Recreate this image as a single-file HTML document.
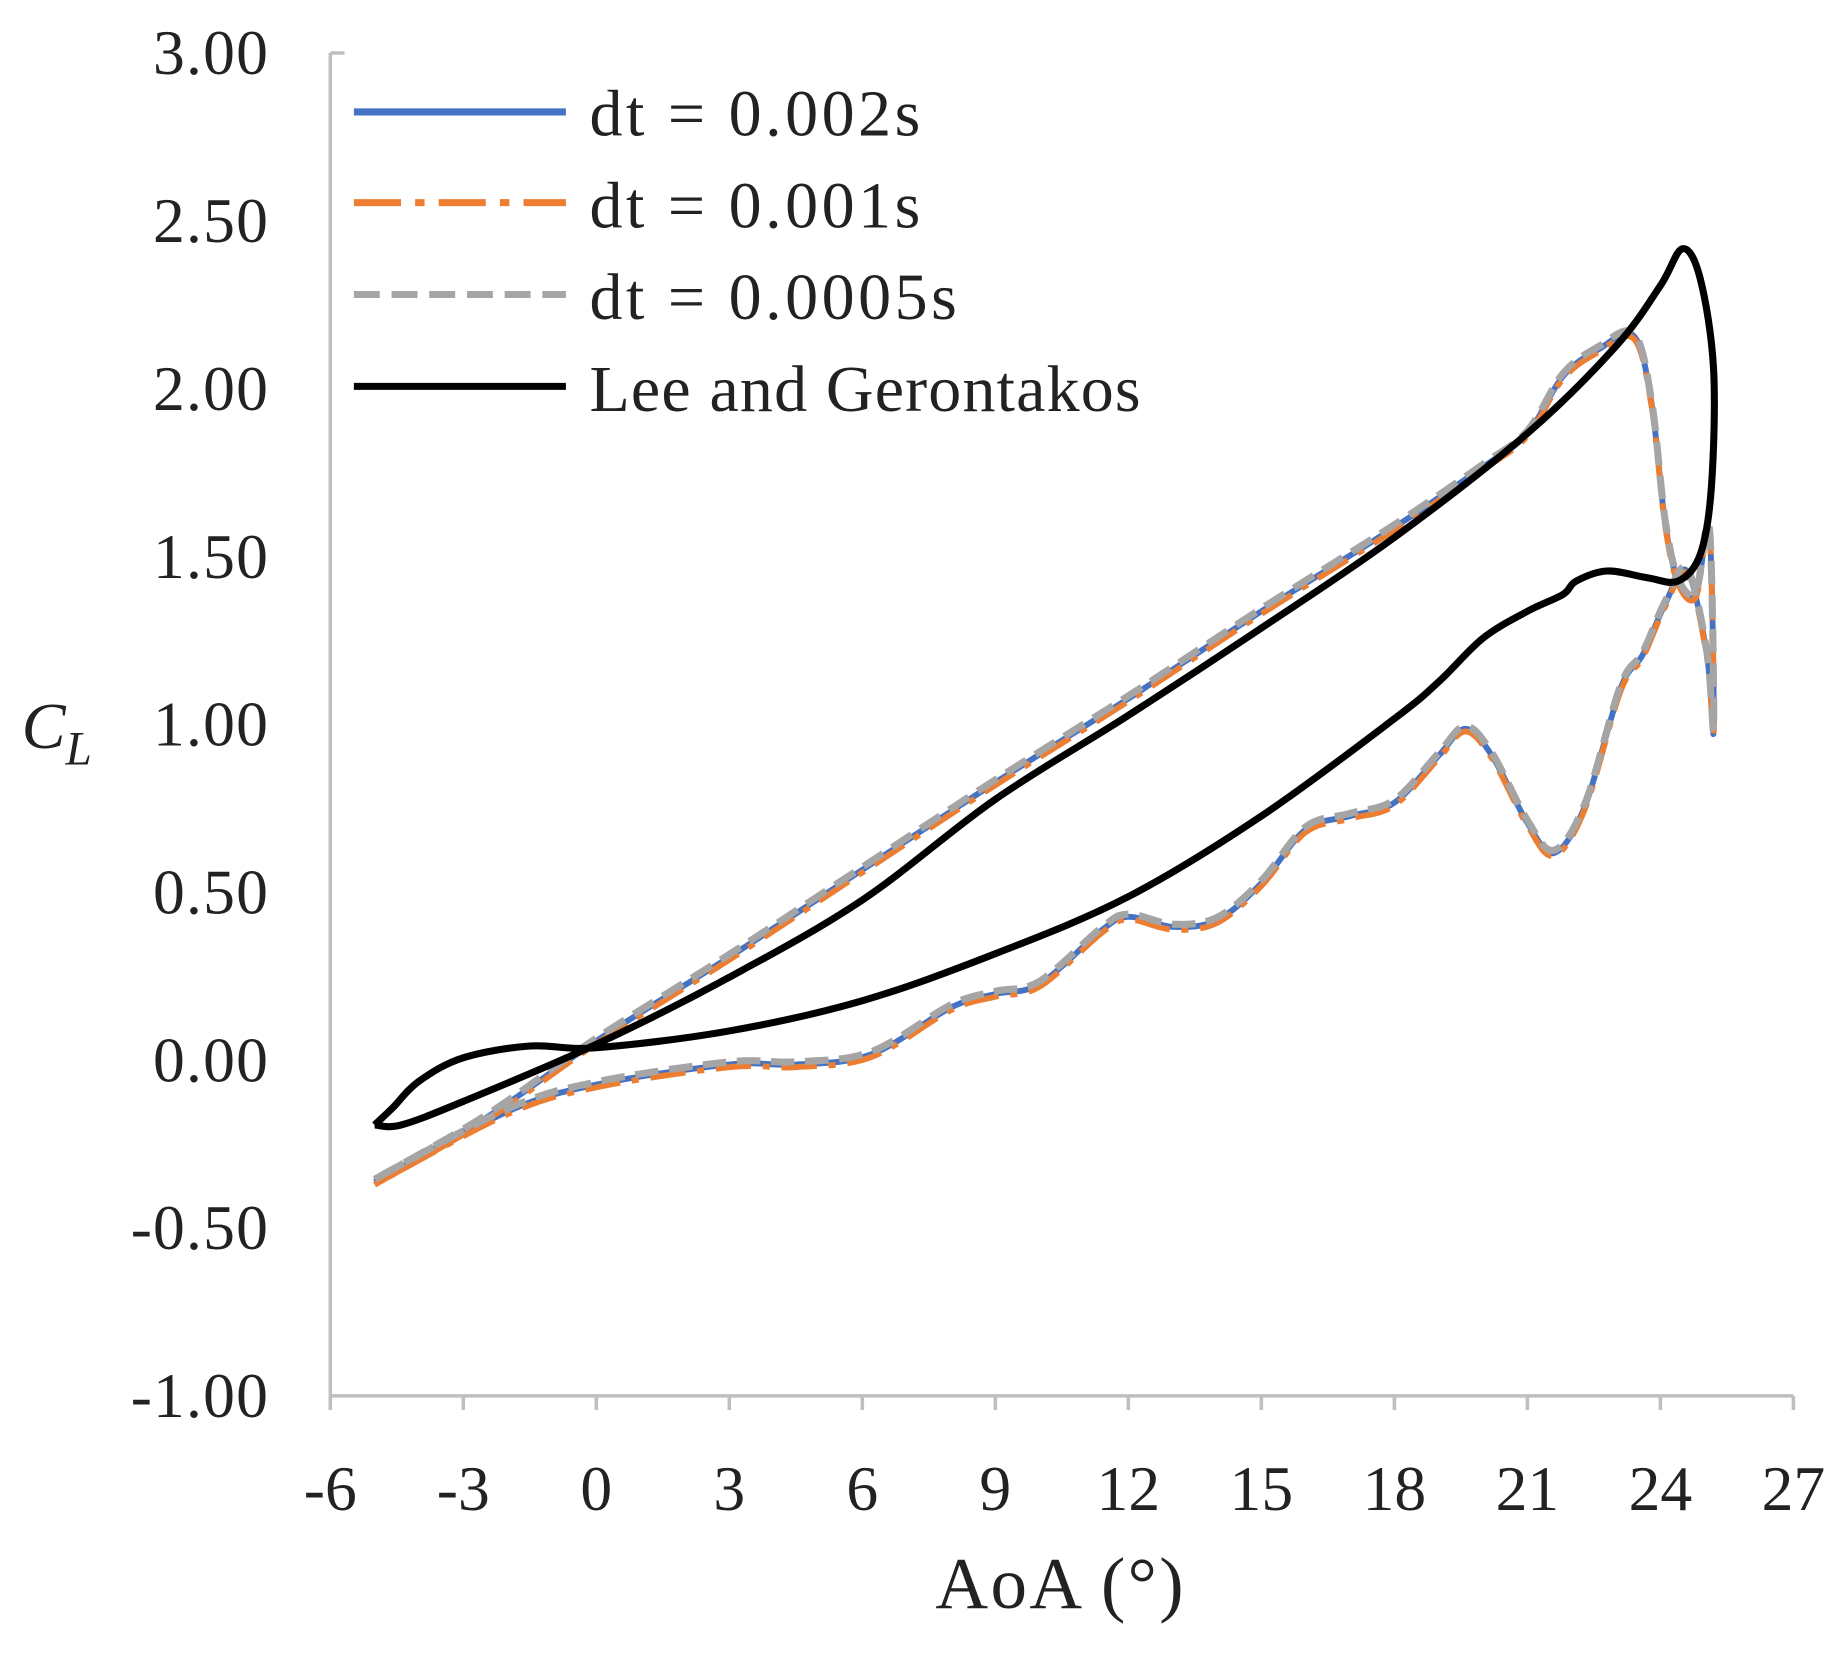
<!DOCTYPE html>
<html><head><meta charset="utf-8"><style>
html,body{margin:0;padding:0;background:#fff;}
svg{display:block;}
text{font-family:"Liberation Serif",serif;fill:#222;}
</style></head><body>
<svg id="s" width="1848" height="1655" viewBox="0 0 1568 1405" xmlns="http://www.w3.org/2000/svg">
<g stroke="#bfbfbf" stroke-width="3" fill="none">
<line x1="280" y1="45" x2="280" y2="1185"/>
<line x1="280" y1="1185" x2="1522" y2="1185"/>
<line x1="280" y1="45" x2="292" y2="45"/>
</g>
<g id="ticks" stroke="#bfbfbf" stroke-width="3"></g>
<g id="lab" font-size="54" text-anchor="end" letter-spacing="1"></g>
<g id="xlab" font-size="54" text-anchor="middle"></g>
<text x="900" y="1365" font-size="62" text-anchor="middle" letter-spacing="2">AoA (°)</text>
<text x="18" y="635" font-size="56" font-style="italic">C<tspan font-size="40" dy="14">L</tspan></text>
<g id="plot" fill="none" stroke-linejoin="round" stroke-linecap="butt"></g>
<g stroke-width="6">
<line x1="300" y1="95" x2="480" y2="95" stroke="#4472c4"/>
<line x1="300" y1="172" x2="480" y2="172" stroke="#ed7d31" stroke-dasharray="40,12,8,12"/>
<line x1="300" y1="250" x2="480" y2="250" stroke="#a5a5a5" stroke-dasharray="22,10"/>
<line x1="300" y1="328" x2="480" y2="328" stroke="#000"/>
</g>
<g font-size="56" letter-spacing="3">
<text x="500" y="115">dt = 0.002s</text>
<text x="500" y="193">dt = 0.001s</text>
<text x="500" y="271">dt = 0.0005s</text>
<text x="500" y="349" letter-spacing="1">Lee and Gerontakos</text>
</g>
</svg>
<script>
const NS="http://www.w3.org/2000/svg";
const X=a=>505.8+37.64*a, Y=c=>898-285*c;
const lab=document.getElementById('lab'),xl=document.getElementById('xlab'),tk=document.getElementById('ticks');
["3.00","2.50","2.00","1.50","1.00","0.50","0.00","-0.50","-1.00"].forEach((t,i)=>{
 const e=document.createElementNS(NS,'text');e.setAttribute('x',228);e.setAttribute('y',45+i*142.5+18);e.textContent=t;lab.appendChild(e);});
for(let a=-6;a<=27;a+=3){const x=X(a);
 const e=document.createElementNS(NS,'text');e.setAttribute('x',x);e.setAttribute('y',1282);e.textContent=a;xl.appendChild(e);
 const l=document.createElementNS(NS,'line');l.setAttribute('x1',x);l.setAttribute('x2',x);l.setAttribute('y1',1185);l.setAttribute('y2',1197);tk.appendChild(l);}
function path(pts){const p=pts.map(q=>[X(q[0]),Y(q[1])]);let d="M"+p[0][0]+","+p[0][1];
 for(let i=0;i<p.length-1;i++){const p0=p[i-1]||p[i],p1=p[i],p2=p[i+1],p3=p[i+2]||p2;
  d+=` C${p1[0]+(p2[0]-p0[0])/6},${p1[1]+(p2[1]-p0[1])/6} ${p2[0]-(p3[0]-p1[0])/6},${p2[1]-(p3[1]-p1[1])/6} ${p2[0]},${p2[1]}`;}
 return d;}
const cfd=[[-5,-0.37],[-2.5,-0.18],[0,0.05],[3,0.3],[6,0.56],[9,0.82],[12,1.07],[15,1.33],[18,1.58],[20,1.76],[21,1.86],[21.8,2.03],[22.6,2.11],[23.4,2.15],[23.8,1.95],[24.1,1.6],[24.4,1.42],[24.8,1.38],[25.05,1.58],[25.15,1.45],[25.2,0.97],[25.05,1.2],[24.6,1.45],[24.1,1.35],[23.6,1.2],[23.1,1.1],[22.3,0.75],[21.6,0.61],[21,0.7],[20.2,0.9],[19.6,0.98],[19,0.9],[18,0.76],[17,0.72],[16,0.68],[15,0.52],[14,0.41],[13,0.39],[12,0.42],[11.4,0.38],[10,0.22],[9,0.19],[8,0.15],[6.2,0.01],[4.5,-0.02],[3,-0.02],[0,-0.08],[-2,-0.16],[-5,-0.37]];
const lee=[[-5,-0.2],[-4.4,-0.2],[-3,-0.13],[0,0.04],[3,0.24],[6,0.47],[9,0.77],[12,1.02],[15,1.28],[18,1.55],[21,1.86],[23,2.12],[24,2.3],[24.5,2.41],[24.9,2.32],[25.2,2.05],[25.15,1.7],[24.9,1.5],[24.4,1.42],[23.7,1.43],[22.8,1.45],[22.1,1.42],[21.8,1.38],[21,1.33],[20,1.25],[19,1.12],[18,1.01],[15,0.72],[12,0.48],[9,0.31],[6,0.17],[3,0.08],[0,0.03],[-1.5,0.035],[-3,0.0],[-4,-0.07],[-4.6,-0.15],[-5,-0.2]];
const g=document.getElementById('plot');
function add(pts,col,w,dash,off){const e=document.createElementNS(NS,'path');e.setAttribute('d',path(pts.map(q=>[q[0],q[1]+(off||0)])));e.setAttribute('stroke',col);e.setAttribute('stroke-width',w);if(dash)e.setAttribute('stroke-dasharray',dash);g.appendChild(e);}
add(cfd,"#4472c4",5);
add(cfd,"#ed7d31",5,"30,10,6,10",-0.008);
add(cfd,"#a5a5a5",6,"20,9",0.008);
add(lee,"#000",6);
</script>
</body></html>
